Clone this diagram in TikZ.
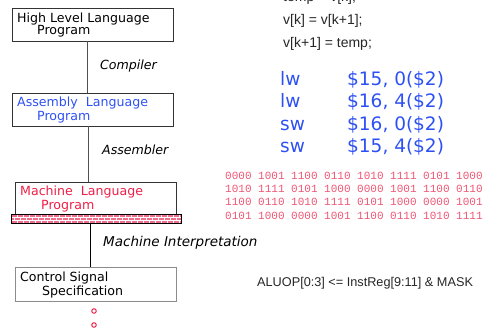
\documentclass[tikz,border=0pt]{standalone}
\usepackage{fontspec}
\setmainfont{DejaVu Sans}
\newfontfamily\codefont{Liberation Sans}
\newfontfamily\monofont{Liberation Mono}
\definecolor{asmblue}{RGB}{45,80,245}
\definecolor{mlred}{RGB}{240,30,70}
\definecolor{binred}{RGB}{238,85,115}
\definecolor{brick}{RGB}{240,110,140}
\definecolor{linegray}{RGB}{80,80,80}
\begin{document}
\begin{tikzpicture}[x=1pt,y=-1pt,
  box/.style={draw=#1,line width=0.8pt},
  lvl/.style={anchor=base west,inner sep=0pt,font=\fontsize{12.6}{13}\selectfont},
  tool/.style={anchor=base west,inner sep=0pt,font=\fontsize{12.6}{13}\selectfont\itshape},
  conn/.style={draw=linegray,line width=0.8pt},
  code/.style={anchor=base west,inner sep=0pt,font=\codefont\fontsize{14}{15}\selectfont,text=black!85},
  asm/.style={anchor=base west,inner sep=0pt,font=\fontsize{18.5}{20}\selectfont,text=asmblue},
  bin/.style={anchor=base west,inner sep=0pt,font=\monofont\fontsize{11}{12}\selectfont,text=binred},
  dot/.style={circle,draw=mlred,line width=1pt,inner sep=0pt,minimum size=4.5pt}]
\useasboundingbox (0,0) rectangle (487,331);
% boxes
\draw[box=black!80] (12,8) rectangle (173,41);
\coordinate (hllb) at (87,41);
\node[lvl] (hll1) at (17,23) {High Level Language};
\node[lvl] (hll2) at (37,35) {Program};
\draw[box=black!80] (12,93) rectangle (173,126);
\coordinate (asmt) at (87,93);
\coordinate (asmb) at (88,126);
\node[lvl,text=asmblue] (al1) at (17,107) {Assembly\ \ Language};
\node[lvl,text=asmblue] (al2) at (37,121) {Program};
\draw[box=black!80] (15,182) rectangle (176,214);
\coordinate (mlt) at (88,182);
\node[lvl,text=mlred] (ml1) at (20,196) {Machine\ \ Language};
\node[lvl,text=mlred] (ml2) at (41,210) {Program};
% brick bar
\fill[brick] (11,214) rectangle (181,223);
\begin{scope}
\clip (11,214) rectangle (181,223);
\draw[white,line width=0.5pt] (11,217) -- (181,217) (11,220) -- (181,220);
\foreach \x in {11,17,...,185} {
  \draw[white,line width=0.5pt] (\x,214) -- (\x,217);
  \draw[white,line width=0.5pt] (\x+3,217) -- (\x+3,220);
  \draw[white,line width=0.5pt] (\x,220) -- (\x,223);
}
\end{scope}
\draw[black,line width=0.8pt] (11,214) rectangle (181,223);
\coordinate (brb) at (90,223);
\draw[box=black!45] (15,267) rectangle (176,301);
\coordinate (cst) at (90,267);
\node[lvl] (cs1) at (20,281) {Control Signal};
\node[lvl] (cs2) at (42,295) {Specification};
% connectors
\draw[conn] (hllb) -- (asmt);
\draw[conn] (asmb) -- (mlt);
\draw[conn,draw=black] (brb) -- (cst);
\node[tool] (comp) at (100,70) {Compiler};
\node[tool] (assem) at (102,155) {Assembler};
\node[tool,font=\fontsize{13.5}{14}\selectfont\itshape] (mi) at (103,246) {Machine Interpretation};
% dots
\node[dot] (d1) at (94,311) {};
\node[dot] (d2) at (94,325) {};
% C code
\node[code] (c0) at (283,2) {temp = v[k];};
\node[code] (c1) at (283,25) {v[k] = v[k+1];};
\node[code] (c2) at (283,48) {v[k+1] = temp;};
% assembly
\node[asm] (a1) at (280,86) {lw};
\node[asm] (a1b) at (347,86) {\$15, 0(\$2)};
\node[asm] (a2) at (280,108) {lw};
\node[asm] (a2b) at (347,108) {\$16, 4(\$2)};
\node[asm] (a3) at (280,131) {sw};
\node[asm] (a3b) at (347,131) {\$16, 0(\$2)};
\node[asm] (a4) at (280,153) {sw};
\node[asm] (a4b) at (347,153) {\$15, 4(\$2)};
% binary
\node[bin] (b1) at (225,180) {0000 1001 1100 0110 1010 1111 0101 1000};
\node[bin] (b2) at (225,193) {1010 1111 0101 1000 0000 1001 1100 0110};
\node[bin] (b3) at (225,206) {1100 0110 1010 1111 0101 1000 0000 1001};
\node[bin] (b4) at (225,219) {0101 1000 0000 1001 1100 0110 1010 1111};
% RTL
\node[code,font=\codefont\fontsize{12.7}{13}\selectfont] (rtl) at (257,286) {ALUOP[0:3] <= InstReg[9:11] \& MASK};
\end{tikzpicture}
\end{document}
